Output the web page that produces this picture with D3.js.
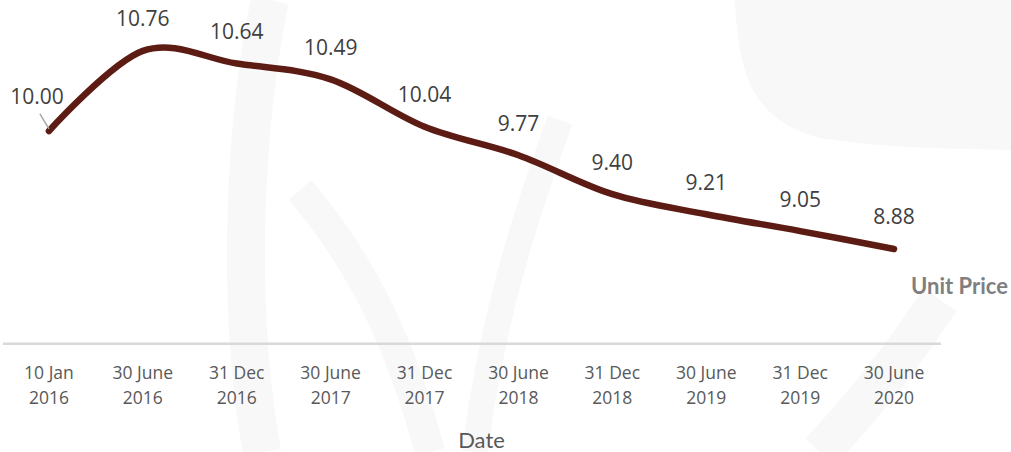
<!DOCTYPE html>
<html>
<head>
<meta charset="utf-8">
<script src="https://cdn.jsdelivr.net/npm/d3@7/dist/d3.min.js"></script>
<style>
  html, body { margin: 0; padding: 0; background: #ffffff; }
  svg { display: block; }
</style>
</head>
<body>
<svg id="chart" width="1011" height="452"></svg>
<script>
const categoryLine1 = ["10 Jan", "30 June", "31 Dec", "30 June", "31 Dec", "30 June", "31 Dec", "30 June", "31 Dec", "30 June"];
const categoryLine2 = ["2016", "2016", "2016", "2017", "2017", "2018", "2018", "2019", "2019", "2020"];
const unitPrice = [10.00, 10.76, 10.64, 10.49, 10.04, 9.77, 9.40, 9.21, 9.05, 8.88];
const seriesName = "Unit Price";
const xTitle = "Date";

const categories = categoryLine1.map((d, i) => d + " " + categoryLine2[i]);
const data = categories.map((c, i) => ({ c, v: unitPrice[i], l1: categoryLine1[i], l2: categoryLine2[i] }));

const svg = d3.select("#chart");

// faint background watermark
const bg = svg.append("g").attr("fill", "none").attr("stroke", "#f8f8f8");
svg.insert("path", ":first-child")
  .attr("d", "M735,0 C738,60 745,120 820,138 C900,150 960,148 1011,150 L1011,0 Z")
  .attr("fill", "#f8f8f8");
bg.append("path").attr("d", "M270,0 C245,120 235,300 262,452").attr("stroke-width", 38);
bg.append("path").attr("d", "M300,190 C360,260 400,340 430,452").attr("stroke-width", 30);
bg.append("path").attr("d", "M560,120 C520,230 490,330 475,452").attr("stroke-width", 26);
bg.append("path").attr("d", "M940,300 C900,360 860,410 820,452").attr("stroke-width", 40);

const x = d3.scaleBand().domain(categories).range([2, 941]).padding(0);
const y = d3.scaleLinear().domain([8, 11]).range([341.7, 341.7 - 3 * 105.36]);
const cx = d => x(d.c) + x.bandwidth() / 2;

// axis baseline
svg.append("line")
  .attr("x1", 3).attr("x2", 941)
  .attr("y1", y(8) + 2).attr("y2", y(8) + 2)
  .attr("stroke", "#d9d9d9").attr("stroke-width", 2.5);

// category labels
const xl = svg.append("g")
  .attr("font-family", "'Open Sans', sans-serif")
  .attr("font-size", 17.5).attr("fill", "#595959").attr("text-anchor", "middle");
xl.selectAll("text.l1").data(data).join("text").attr("class", "l1")
  .attr("x", cx).attr("y", 378.5).text(d => d.l1);
xl.selectAll("text.l2").data(data).join("text").attr("class", "l2")
  .attr("x", cx).attr("y", 403.5).text(d => d.l2);

// axis title
svg.append("text")
  .attr("x", 481.5).attr("y", 448)
  .attr("text-anchor", "middle")
  .attr("font-family", "Lato, sans-serif").attr("font-size", 22)
  .attr("fill", "#595959").text(xTitle);

// line
const line = d3.line().x(cx).y(d => y(d.v)).curve(d3.curveCardinal.tension(0));
svg.append("path").datum(data)
  .attr("d", line)
  .attr("fill", "none")
  .attr("stroke", "#5c1c14")
  .attr("stroke-width", 6.5)
  .attr("stroke-linecap", "round")
  .attr("stroke-linejoin", "round");

// leader line for first label
const first = data[0];
svg.append("line")
  .attr("x1", cx(first) - 9).attr("y1", y(first.v) - 17)
  .attr("x2", cx(first)).attr("y2", y(first.v) - 2)
  .attr("stroke", "#a6a6a6").attr("stroke-width", 1.5);

// data labels
const dl = svg.append("g")
  .attr("font-family", "'Open Sans', sans-serif")
  .attr("font-size", 21).attr("fill", "#404040").attr("text-anchor", "middle");
dl.selectAll("text").data(data).join("text")
  .attr("x", (d, i) => i === 0 ? cx(d) - 12 : cx(d))
  .attr("y", (d, i) => i === 0 ? y(d.v) - 26.5 : y(d.v) - 24.5)
  .text(d => d.v.toFixed(2));

// series name label
svg.append("text")
  .attr("x", 1008).attr("y", 293.5)
  .attr("text-anchor", "end")
  .attr("font-family", "Lato, sans-serif").attr("font-weight", "bold").attr("font-size", 22)
  .attr("fill", "#7f7f7f").text(seriesName);
</script>
</body>
</html>
